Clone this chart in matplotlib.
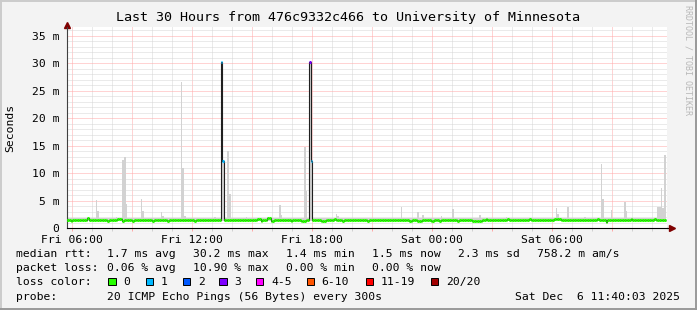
import datetime as dt
import numpy as np
import matplotlib
matplotlib.use('Agg')
import matplotlib.pyplot as plt
import matplotlib.dates as mdates
from matplotlib.collections import LineCollection
from matplotlib.ticker import MultipleLocator, FuncFormatter

# smokeping style graph, 5 minute steps (bucket start times)
first_step = "Fri 05:40"
n_steps = 360

median_base = 1.5   # ms, flat part of the median line
smoke_floor = 1.3
smoke_base = 1.8

smoke_times = ["Fri 07:10", "Fri 07:15", "Fri 08:10", "Fri 08:30", "Fri 08:35", "Fri 08:40",
               "Fri 09:25", "Fri 09:30", "Fri 10:25", "Fri 10:30", "Fri 11:25", "Fri 11:30",
               "Fri 11:35", "Fri 13:05", "Fri 13:25", "Fri 13:30", "Fri 13:45", "Fri 13:50",
               "Fri 14:40", "Fri 16:20", "Fri 16:25", "Fri 17:35", "Fri 17:40", "Fri 17:50",
               "Fri 17:55", "Fri 18:40", "Fri 19:10", "Fri 19:15", "Fri 22:25", "Fri 23:15",
               "Fri 23:30", "Sat 00:25", "Sat 01:00", "Sat 02:20", "Sat 03:40", "Sat 06:10",
               "Sat 06:15", "Sat 06:45", "Sat 07:35", "Sat 08:25", "Sat 08:30", "Sat 08:55",
               "Sat 09:35", "Sat 09:40", "Sat 11:15", "Sat 11:20", "Sat 11:25", "Sat 11:30",
               "Sat 11:35"]
smoke_tops = [5.1, 3.2, 2.0, 12.4, 13.0, 4.4,
              5.4, 3.2, 3.0, 2.3, 26.5, 11.0,
              2.3, 2.1, 30.2, 12.3, 14.0, 6.2,
              2.0, 4.2, 2.5, 14.7, 6.7, 30.2,
              12.3, 1.9, 2.6, 2.3, 3.9, 3.0,
              2.5, 2.3, 3.5, 2.5, 2.0, 3.6,
              2.6, 3.9, 2.0, 11.7, 5.4, 3.3,
              4.8, 3.1, 3.9, 3.9, 7.4, 3.6,
              13.3]

median_times = ["Fri 05:55", "Fri 06:45", "Fri 07:45", "Fri 08:15", "Fri 08:20", "Fri 08:25",
                "Fri 08:30", "Fri 09:00", "Fri 10:00", "Fri 10:45", "Fri 12:05", "Fri 13:25",
                "Fri 13:30", "Fri 15:15", "Fri 15:20", "Fri 15:25", "Fri 15:45", "Fri 15:50",
                "Fri 15:55", "Fri 16:00", "Fri 16:55", "Fri 17:25", "Fri 17:30", "Fri 17:35",
                "Fri 17:50", "Fri 17:55", "Fri 18:25", "Fri 18:30", "Fri 18:35", "Fri 19:05",
                "Fri 19:30", "Fri 20:45", "Fri 22:50", "Fri 22:55", "Fri 23:15", "Fri 23:20",
                "Fri 23:25", "Fri 23:55", "Sat 00:00", "Sat 00:20", "Sat 01:15", "Sat 02:00",
                "Sat 02:05", "Sat 02:10", "Sat 02:15", "Sat 02:20", "Sat 02:25", "Sat 02:40",
                "Sat 03:45", "Sat 04:50", "Sat 06:05", "Sat 06:10", "Sat 06:15", "Sat 06:20",
                "Sat 08:15", "Sat 08:40", "Sat 09:55", "Sat 11:05"]
median_vals = [1.25, 1.8, 1.25, 1.65, 1.65, 1.65,
               1.3, 1.3, 1.3, 1.3, 1.3, 30.2,
               12.3, 1.7, 1.7, 1.4, 1.8, 1.8,
               1.25, 1.25, 1.3, 1.35, 1.35, 1.35,
               30.2, 12.3, 1.3, 1.3, 1.3, 1.7,
               1.3, 1.3, 1.3, 1.3, 1.35, 1.35,
               1.35, 1.3, 1.3, 1.3, 1.3, 1.35,
               1.35, 1.35, 1.35, 1.35, 1.35, 1.7,
               1.7, 1.7, 1.7, 1.7, 1.7, 1.7,
               1.7, 1.2, 1.7, 1.7]

loss_times = ["Fri 13:25", "Fri 13:30", "Fri 17:50", "Fri 17:55"]
loss_pings = [1, 1, 3, 1]

loss_labels = ["0", "1", "2", "3", "4-5", "6-10", "11-19", "20/20"]
loss_limits = [0, 1, 2, 3, 5, 10, 19, 20]
loss_colors = ["#26ff00", "#00b8ff", "#0059ff", "#7e00ff", "#ff00ff", "#ff5500", "#ff0000", "#a10000"]

median_stats = ["1.7 ms avg", "30.2 ms max", "1.4 ms min", "1.5 ms now", "2.3 ms sd", "758.2 m am/s"]
loss_stats = ["0.06 % avg", "10.90 % max", "0.00 % min", "0.00 % now"]
probe_text = "20 ICMP Echo Pings (56 Bytes) every 300s"
stamp_text = "Sat Dec  6 11:40:03 2025"
title_text = "Last 30 Hours from 476c9332c466 to University of Minnesota"

W, H = 697, 310
plt.rcParams['font.family'] = 'DejaVu Sans Mono'
FS = 8.2


def when(s):
    day, hm = s.split()
    h, m = map(int, hm.split(':'))
    return dt.datetime(2025, 12, {'Fri': 5, 'Sat': 6}[day], h, m)


def px(x, y):
    return x / W, 1 - y / H


t0 = when(first_step)


def step_of(s):
    return int((when(s) - t0).total_seconds() // 300)


edges = mdates.date2num([t0 + dt.timedelta(minutes=5 * i) for i in range(n_steps + 1)])

median = np.full(n_steps, median_base)
for s, v in zip(median_times, median_vals):
    median[step_of(s)] = v
smoke = np.full(n_steps, smoke_base)
for s, v in zip(smoke_times, smoke_tops):
    smoke[step_of(s)] = v
loss = np.zeros(n_steps, dtype=int)
for s, v in zip(loss_times, loss_pings):
    loss[step_of(s)] = v


def loss_color(n):
    for lim, c in zip(loss_limits, loss_colors):
        if n <= lim:
            return c
    return loss_colors[-1]


fig = plt.figure(figsize=(W / 100, H / 100), dpi=100, facecolor='#f3f3f3')

x0, y0 = px(66.7, 228.3)
ax = fig.add_axes([x0, y0, 600 / W, 201 / H])
ax.set_facecolor('white')

# smoke
ax.bar(edges[:-1], smoke - smoke_floor, bottom=smoke_floor, width=np.diff(edges),
       align='edge', color='#d2d2d2', linewidth=0, antialiased=False, zorder=2)
# median line + loss colour
ax.stairs(median, edges, baseline=None, color='#202020', linewidth=0.8, zorder=3)
segs = [[(edges[i], median[i]), (edges[i + 1], median[i])] for i in range(n_steps)]
ax.add_collection(LineCollection(segs, colors=[loss_color(n) for n in loss],
                                 linewidths=2.2, capstyle='butt', zorder=4))

start = mdates.date2num(when("Fri 05:43"))
ax.set_xlim(start, start + 30 / 24)
ax.set_ylim(0, 36.53)

ax.xaxis.set_major_locator(mdates.HourLocator(byhour=range(0, 24, 3)))
ax.xaxis.set_minor_locator(mdates.HourLocator())
ax.xaxis.set_major_formatter(FuncFormatter(
    lambda v, p: mdates.num2date(v).strftime('%a %H:%M') if mdates.num2date(v).hour % 6 == 0 else ''))
ax.yaxis.set_major_locator(MultipleLocator(5))
ax.yaxis.set_minor_locator(MultipleLocator(1))
ax.yaxis.set_major_formatter(FuncFormatter(lambda v, p: '0' if v == 0 else f'{v:.0f} m'))

ax.set_axisbelow(True)
ax.grid(which='minor', color='#d6d6d6', linestyle=(0, (1, 1)), linewidth=0.72)
ax.grid(which='major', color='#ffa8a8', linestyle=(0, (1, 1)), linewidth=0.72)

ax.tick_params(axis='x', which='major', length=2, width=0.72, color='#ffa8a8', pad=3, labelsize=FS)
ax.tick_params(axis='x', which='minor', length=2, width=0.72, color='#d0d0d0')
ax.tick_params(axis='y', which='both', length=0, pad=5.3, labelsize=FS)

for side in ['top', 'right']:
    ax.spines[side].set_visible(False)
ax.spines['left'].set_color('#404040')
ax.spines['bottom'].set_color('black')
ax.spines['left'].set_linewidth(0.8)
ax.spines['bottom'].set_linewidth(0.8)

# axis arrows
ax.plot([1, 1.008], [0, 0], color='black', lw=0.8, transform=ax.transAxes, clip_on=False)
ax.plot([1.009], [0], marker='>', ms=5, color='#7f0000', transform=ax.transAxes, clip_on=False)
ax.plot([0], [1.013], marker='^', ms=5, color='#7f0000', transform=ax.transAxes, clip_on=False)

ax.set_ylabel('Seconds', fontsize=FS)
ax.yaxis.set_label_coords(-0.086, 0.5)

fig.text(*px(348.5, 18), title_text, ha='center', va='center', fontsize=9.6)
fig.text(*px(688, 60), 'RRDTOOL / TOBI OETIKER', ha='center', va='center',
         rotation=-90, fontsize=6, color='#b8b8b8')

# legend block
col_x = [107.3, 193.3, 286, 372.3, 458.3, 537.3]
rows_y = [254, 268.3, 281.7, 296.7]
fig.text(*px(16, rows_y[0]), 'median rtt:', va='center', fontsize=FS)
for x, s in zip(col_x, median_stats):
    fig.text(*px(x, rows_y[0]), s, va='center', fontsize=FS)
fig.text(*px(16, rows_y[1]), 'packet loss:', va='center', fontsize=FS)
for x, s in zip(col_x, loss_stats):
    fig.text(*px(x, rows_y[1]), s, va='center', fontsize=FS)
fig.text(*px(16, rows_y[2]), 'loss color:', va='center', fontsize=FS)
box_x = [108.3, 145.7, 182.7, 219.3, 256, 306.7, 365.7, 430.7]
for x, lab, c in zip(box_x, loss_labels, loss_colors):
    bx, by = px(x, rows_y[2] + 3.7)
    fig.add_artist(plt.Rectangle((bx, by), 7.3 / W, 7.3 / H, facecolor=c,
                                 edgecolor='black', linewidth=0.7, transform=fig.transFigure))
    fig.text(*px(x + 15, rows_y[2]), lab, va='center', fontsize=FS)
fig.text(*px(16, rows_y[3]), 'probe:', va='center', fontsize=FS)
fig.text(*px(107.3, rows_y[3]), probe_text, va='center', fontsize=FS)
fig.text(*px(680, rows_y[3]), stamp_text, ha='right', va='center', fontsize=FS)

# 3d-ish frame
fig.add_artist(plt.Line2D([0, 1], [1 - 1 / H, 1 - 1 / H], color='#cbcbcb', lw=1.4, transform=fig.transFigure))
fig.add_artist(plt.Line2D([1 / W, 1 / W], [0, 1], color='#cbcbcb', lw=1.4, transform=fig.transFigure))
fig.add_artist(plt.Line2D([0, 1], [1 / H, 1 / H], color='#999999', lw=1.4, transform=fig.transFigure))
fig.add_artist(plt.Line2D([1 - 1 / W, 1 - 1 / W], [0, 1], color='#999999', lw=1.4, transform=fig.transFigure))

fig.savefig('out.png', dpi=100, facecolor=fig.get_facecolor())
